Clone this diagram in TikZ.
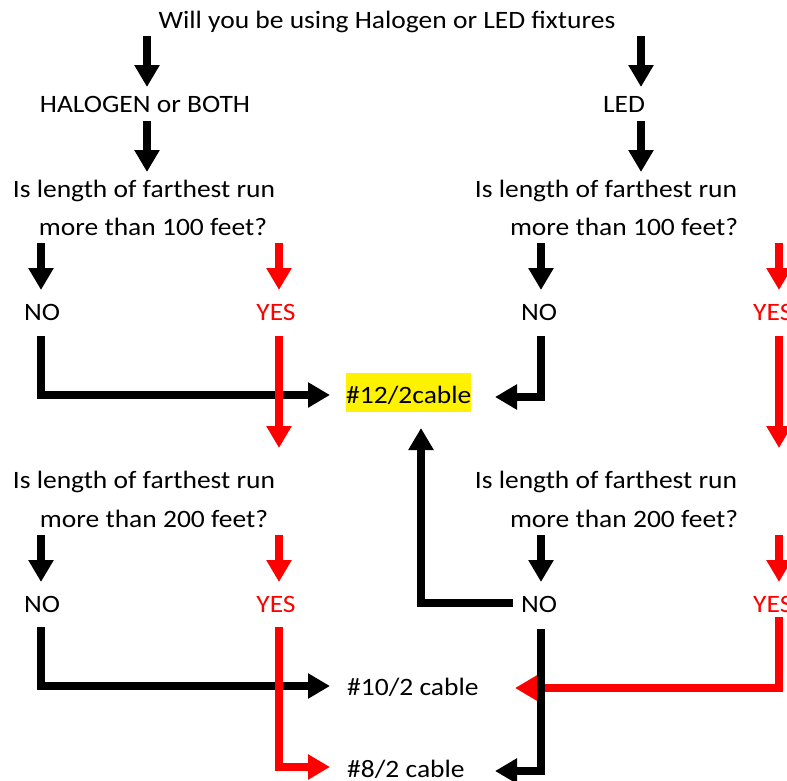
\documentclass[tikz,border=0pt]{standalone}
\usepackage{fontspec}
\setmainfont{Carlito}[FakeStretch=1.1]
\usetikzlibrary{arrows.meta}
\begin{document}
\begin{tikzpicture}[x=1pt,y=-1pt,
  font=\fontsize{25}{30}\selectfont,
  txt/.style={inner sep=0pt, anchor=base},
  blk/.style={line width=8pt, line join=miter, -{Triangle[length=22pt,width=24pt]}},
  rd/.style={blk, red}]
\useasboundingbox (0,0) rectangle (787,780);
\clip (0,0) rectangle (787,780);
% texts
\node[txt] (title) at (387,28) {Will you be using Halogen or LED fixtures};
\node[txt] (halo) at (145,112) {HALOGEN or BOTH};
\node[txt] (led) at (624,112) {LED};
\node[txt] (q1l) at (144,197) {Is length of farthest run};
\node[txt] (q1lb) at (153,235) {more than 100 feet?};
\node[txt] (q1r) at (606,197) {Is length of farthest run};
\node[txt] (q1rb) at (624,235) {more than 100 feet?};
\node[txt] (no1l) at (42,320) {NO};
\node[txt,red] (yes1l) at (276,320) {YES};
\node[txt] (no1r) at (539,320) {NO};
\node[txt,red,anchor=base west] (yes1r) at (753,320) {YES};
\node[txt,anchor=base west,fill=yellow,text height=30pt,text depth=9pt] (c12) at (346,403) {\#12/2cable};
\node[txt] (q2l) at (144,488) {Is length of farthest run};
\node[txt] (q2lb) at (154,527) {more than 200 feet?};
\node[txt] (q2r) at (606,488) {Is length of farthest run};
\node[txt] (q2rb) at (624,527) {more than 200 feet?};
\node[txt] (no2l) at (42,612) {NO};
\node[txt,red] (yes2l) at (276,612) {YES};
\node[txt] (no2r) at (539,612) {NO};
\node[txt,red,anchor=base west] (yes2r) at (753,612) {YES};
\node[txt,anchor=base west] (c10) at (347,695) {\#10/2 cable};
\node[txt,anchor=base west] (c8) at (347,777) {\#8/2 cable};
% coordinates
\coordinate (t1) at (147,36);  \coordinate (h1) at (147,87);
\coordinate (t2) at (641,36);  \coordinate (h2) at (641,87);
\coordinate (t3) at (147,121); \coordinate (h3) at (147,172);
\coordinate (t4) at (641,121); \coordinate (h4) at (641,172);
\coordinate (a1) at (41,243);  \coordinate (b1) at (41,290);
\coordinate (a2) at (279,243); \coordinate (b2) at (279,290);
\coordinate (a3) at (541,243); \coordinate (b3) at (541,290);
\coordinate (a4) at (779,243); \coordinate (b4) at (779,290);
\coordinate (a5) at (41,535);  \coordinate (b5) at (41,582);
\coordinate (a6) at (279,535); \coordinate (b6) at (279,582);
\coordinate (a7) at (541,535); \coordinate (b7) at (541,582);
\coordinate (a8) at (779,535); \coordinate (b8) at (779,582);
\coordinate (n1s) at (41,336);  \coordinate (n1e) at (330,395);
\coordinate (y1s) at (279,336); \coordinate (y1e) at (279,448);
\coordinate (n2s) at (541,336); \coordinate (n2e) at (495,397);
\coordinate (y2s) at (779,336); \coordinate (y2e) at (779,448);
\coordinate (ups) at (513,603); \coordinate (upe) at (421,428);
\coordinate (n3s) at (41,627);  \coordinate (n3e) at (330,686);
\coordinate (y3s) at (279,627); \coordinate (y3e) at (330,767);
\coordinate (y4s) at (779,617); \coordinate (y4e) at (515,688);
\coordinate (n4s) at (541,629); \coordinate (n4e) at (495,771);
% arrows
\draw[blk] (t1) -- (h1);
\draw[blk] (t2) -- (h2);
\draw[blk] (t3) -- (h3);
\draw[blk] (t4) -- (h4);
\draw[blk] (a1) -- (b1);
\draw[rd]  (a2) -- (b2);
\draw[blk] (a3) -- (b3);
\draw[rd]  (a4) -- (b4);
\draw[blk] (a5) -- (b5);
\draw[rd]  (a6) -- (b6);
\draw[blk] (a7) -- (b7);
\draw[rd]  (a8) -- (b8);
\draw[blk] (n1s) |- (n1e);
\draw[rd]  (y1s) -- (y1e);
\draw[rd]  (y2s) -- (y2e);
\draw[blk] (n2s) |- (n2e);
\draw[blk] (ups) -| (upe);
\draw[blk] (n3s) |- (n3e);
\draw[rd]  (y3s) |- (y3e);
\draw[rd]  (y4s) |- (y4e);
\draw[blk] (n4s) |- (n4e);
\end{tikzpicture}
\end{document}
